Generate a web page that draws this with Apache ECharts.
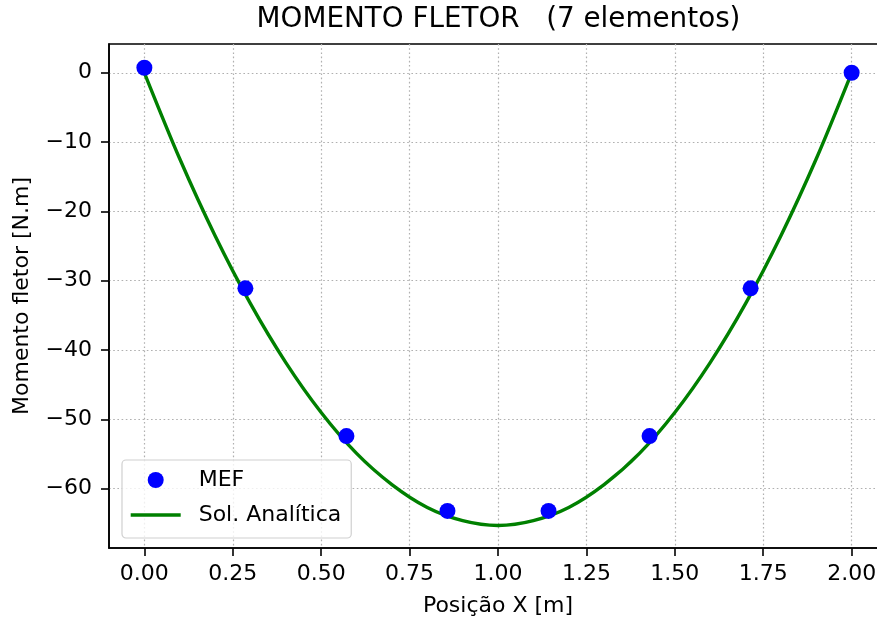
<!DOCTYPE html>
<html>
<head>
<meta charset="utf-8">
<title>Momento fletor</title>
<script src="https://cdn.jsdelivr.net/npm/echarts@6/dist/echarts.min.js"></script>
<style>
  html, body { margin: 0; padding: 0; background: #fff; }
  #chart { width: 877px; height: 625px; }
</style>
</head>
<body>
<div id="chart"></div>
<script>
// MEF nodal values (7 elementos -> 8 nos)
const mefX = [0, 0.2857, 0.5714, 0.8571, 1.1429, 1.4286, 1.7143, 2.0]
const mefY = [0.72, -31.1, -52.4, -63.2, -63.2, -52.4, -31.1, 0.0]

// analytic curve
const solX = [0, 0.1, 0.2, 0.3, 0.4, 0.5, 0.6, 0.7, 0.8, 0.9, 1.0,
  1.1, 1.2, 1.3, 1.4, 1.5, 1.6, 1.7, 1.8, 1.9, 2.0]
const solY = [0, -12.4, -23.5, -33.3, -41.8, -49.0, -54.9, -59.4, -62.7, -64.6, -65.3,
  -64.6, -62.7, -59.4, -54.9, -49.0, -41.8, -33.3, -23.5, -12.4, 0]

// tick labels
const xTicks = [0, 0.25, 0.5, 0.75, 1.0, 1.25, 1.5, 1.75, 2.0]
const yTicks = [-60, -50, -40, -30, -20, -10, 0]

const font = 'DejaVu Sans'
const fs = 22
const gridLine = { show: true, lineStyle: { color: '#b0b0b0', width: 1.2, type: [1.6, 2.6] } }

let myChart = echarts.init(document.getElementById('chart'), null, { renderer: 'canvas' })

myChart.setOption({
  animation: false,
  textStyle: { fontFamily: font },
  title: {
    text: 'MOMENTO FLETOR   (7 elementos)',
    left: 498.5,
    top: 6,
    padding: 0,
    textAlign: 'center',
    textStyle: { fontFamily: font, fontSize: 27.8, fontWeight: 'normal', color: '#000' }
  },
  // plot area, right edge runs past the picture
  grid: {
    left: 109,
    top: 44,
    width: 778,
    height: 504,
    outerBoundsMode: 'none',
    show: true,
    borderColor: '#000',
    borderWidth: 1.6,
    backgroundColor: 'transparent'
  },
  legend: {
    orient: 'vertical',
    left: 122,
    top: 460,
    padding: [9, 10, 12, 7],
    itemWidth: 50,
    itemHeight: 16,
    itemGap: 13,
    backgroundColor: 'rgba(255,255,255,0.8)',
    borderColor: '#d0d0d0',
    borderWidth: 1.2,
    borderRadius: 4,
    textStyle: { fontFamily: font, fontSize: fs, color: '#000', lineHeight: 22, padding: [0, 0, 0, 13] },
    data: [
      { name: 'MEF' },
      // line only, no marker in the legend
      { name: 'Sol. Analítica', itemStyle: { opacity: 0 }, lineStyle: { color: '#008000', width: 3.4, opacity: 1 } }
    ]
  },
  xAxis: {
    type: 'value',
    min: -0.1,
    max: 2.1,
    name: 'Posição X [m]',
    nameLocation: 'middle',
    nameGap: 47,
    nameTextStyle: { fontFamily: font, fontSize: fs, color: '#000' },
    axisLine: { show: true, onZero: false, lineStyle: { color: '#000', width: 1.6 } },
    axisTick: { show: true, inside: false, length: 8, lineStyle: { color: '#000', width: 1.6 }, customValues: xTicks },
    axisLabel: {
      margin: 15,
      fontFamily: font,
      fontSize: fs,
      color: '#000',
      customValues: xTicks,
      formatter: v => v.toFixed(2)
    },
    splitLine: gridLine
  },
  yAxis: {
    type: 'value',
    min: -68.55,
    max: 4.15,
    name: 'Momento fletor [N.m]',
    nameLocation: 'middle',
    nameGap: 76,
    nameTextStyle: { fontFamily: font, fontSize: fs, color: '#000' },
    axisLine: { show: true, onZero: false, lineStyle: { color: '#000', width: 1.6 } },
    axisTick: { show: true, inside: false, length: 8, lineStyle: { color: '#000', width: 1.6 }, customValues: yTicks },
    axisLabel: {
      margin: 17,
      fontFamily: font,
      fontSize: fs,
      color: '#000',
      customValues: yTicks,
      formatter: v => (v < 0 ? '\u2212' + Math.abs(v) : String(v))
    },
    splitLine: gridLine
  },
  series: [
    {
      name: 'Sol. Analítica',
      type: 'line',
      data: solX.map((x, i) => [x, solY[i]]),
      smooth: 0.3,
      symbol: 'none',
      lineStyle: { color: '#008000', width: 3.4 },
      itemStyle: { color: '#008000' },
      z: 2
    },
    {
      name: 'MEF',
      type: 'scatter',
      data: mefX.map((x, i) => [x, mefY[i]]),
      symbol: 'circle',
      symbolSize: 16,
      itemStyle: { color: '#0000ff', opacity: 1 },
      z: 3
    }
  ]
})
</script>
</body>
</html>
